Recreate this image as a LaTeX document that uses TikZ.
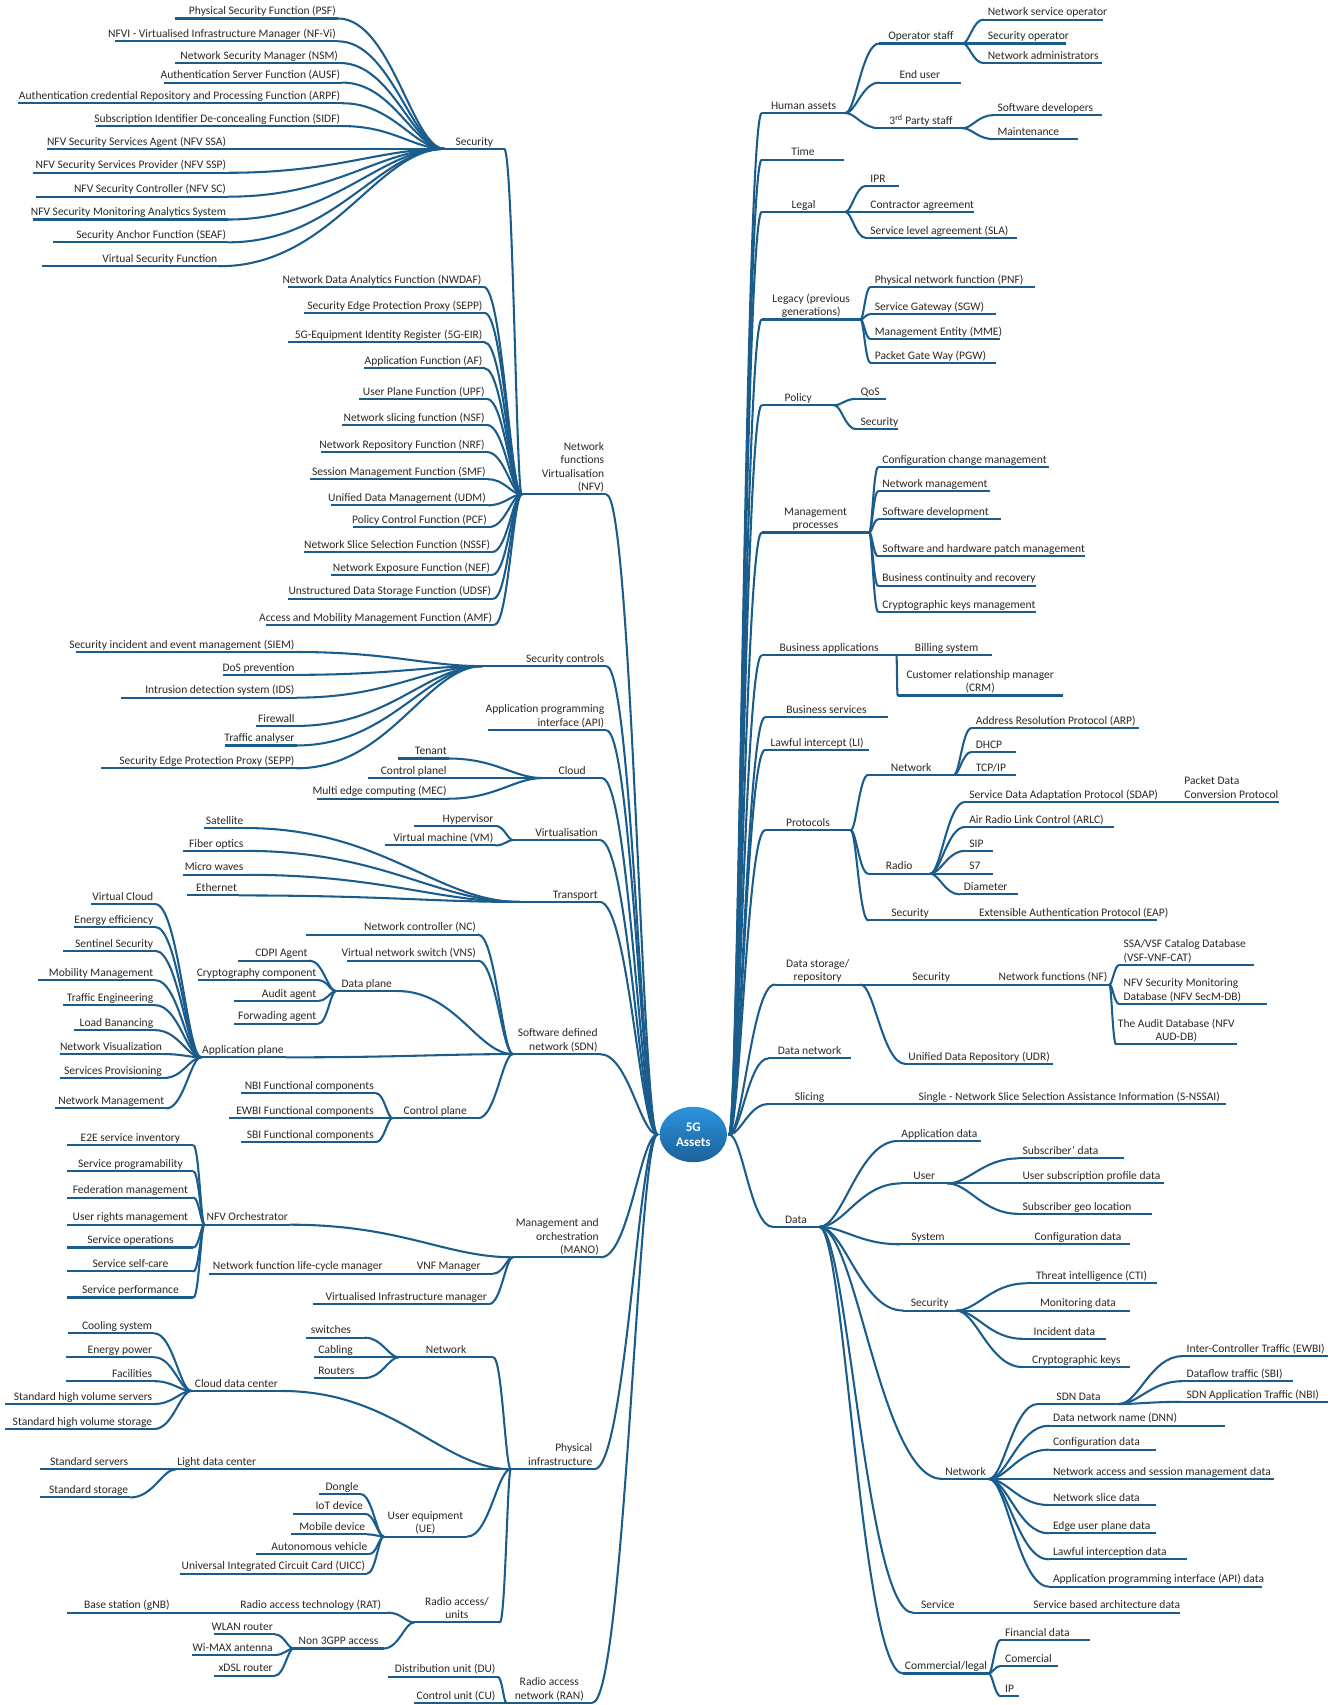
\documentclass[tikz,border=0pt]{standalone}
\usepackage{fontspec}
\setmainfont{Carlito}
\usepackage{tikz}
\usetikzlibrary{shapes.geometric}
\usetikzlibrary{calc}
\definecolor{mapline}{RGB}{26,92,140}
\definecolor{maptext}{RGB}{40,40,40}
\definecolor{hubtop}{RGB}{43,149,221}
\definecolor{hubbot}{RGB}{28,96,155}
\tikzset{
  uline/.style={mapline, line width=1.9pt},
  conn/.style={mapline, line width=1.9pt, line cap=round},
  lbl/.style={font=\fontsize{10.6}{12.4}\selectfont, text=maptext, inner sep=0pt, outer sep=0pt},
  hub/.style={ellipse, minimum width=62pt, minimum height=51pt, inner sep=0pt, top color=hubtop, bottom color=hubbot, text=white, font=\bfseries\fontsize{12}{13.5}\selectfont, align=center}
}
\newcommand\mlines[2]{\begin{tabular}[b]{@{}#1@{}}#2\end{tabular}}
\newcommand\tpL[5]{\coordinate (#1L) at (#2,#4); \coordinate (#1R) at (#3,#4);
  \draw[uline] (#1L) -- (#1R);
  \node[lbl, anchor=base west] (#1) at ({#2+4},{#4-3.5}) {#5};}
\newcommand\tpC[5]{\coordinate (#1L) at (#2,#4); \coordinate (#1R) at (#3,#4);
  \draw[uline] (#1L) -- (#1R);
  \node[lbl, anchor=base] (#1) at ({(#2+#3)/2},{#4-3.5}) {#5};}
\newcommand\tpR[5]{\coordinate (#1L) at (#2,#4); \coordinate (#1R) at (#3,#4);
  \draw[uline] (#1L) -- (#1R);
  \node[lbl, anchor=base east] (#1) at ({#3-2},{#4-3.5}) {#5};}
\newcommand\linkR[2]{\draw[conn] (#1R) .. controls ($(#1R)!0.3!(#1R-|#2L)$) and ($(#2L)!0.5!(#2L-|#1R)$) .. (#2L);}
\newcommand\linkL[2]{\draw[conn] (#1L) .. controls ($(#1L)!0.3!(#1L-|#2R)$) and ($(#2R)!0.5!(#2R-|#1L)$) .. (#2R);}

\begin{document}
\begin{tikzpicture}[x=1pt,y=-1pt]
\useasboundingbox (0,0) rectangle (1234,1569);
\coordinate (ctrL) at (605,1044);
\coordinate (ctrR) at (671,1044);

\tpC{hum}{701}{778}{104}{Human assets}
\tpC{ops}{809}{886}{40}{Operator staff}
\tpL{nso}{905}{1015}{18}{Network service operator}
\tpL{seco}{905}{981}{40}{Security operator}
\tpL{nadm}{905}{1014}{58}{Network administrators}
\tpC{endu}{809}{884}{76}{End user}
\tpC{third}{809}{886}{118}{3\textsuperscript{rd} Party staff}
\tpL{swdev}{914}{1014}{106}{Software developers}
\tpL{maint}{914}{992}{128}{Maintenance}
\tpC{time}{701}{777}{147}{Time}
\tpC{legal}{701}{778}{195}{Legal}
\tpL{ipr}{797}{827}{171}{IPR}
\tpL{contr}{797}{896}{195}{Contractor agreement}
\tpL{sla}{797}{936}{219}{Service level agreement (SLA)}
\tpC{legacy}{701}{792}{294}{\mlines{c}{Legacy (previous\\generations)}}
\tpL{pnf}{801}{952}{264}{Physical network function (PNF)}
\tpL{sgw}{801}{917}{289}{Service Gateway (SGW)}
\tpL{mme}{801}{920}{312}{Management Entity (MME)}
\tpL{pgw}{801}{917}{334}{Packet Gate Way (PGW)}
\tpC{policy}{701}{768}{373}{Policy}
\tpL{qos}{788}{815}{367}{QoS}
\tpL{polsec}{788}{826}{395}{Security}
\tpC{mgmt}{701}{800}{490}{\mlines{c}{Management\\processes}}
\tpL{ccm}{808}{965}{430}{Configuration change management}
\tpL{netm}{808}{911}{452}{Network management}
\tpL{swd}{808}{921}{478}{Software development}
\tpL{patch}{808}{998}{512}{Software and hardware patch management}
\tpL{bcr}{808}{953}{539}{Business continuity and recovery}
\tpL{ckm}{808}{953}{563}{Cryptographic keys management}
\tpC{busapp}{701}{825}{603}{Business applications}
\tpL{bill}{838}{913}{603}{Billing system}
\tpC{crm}{826}{978}{640}{\mlines{c}{Customer relationship manager\\(CRM)}}
\tpC{bussrv}{704}{817}{660}{Business services}
\tpC{li}{704}{800}{690}{Lawful intercept (LI)}
\tpC{proto}{704}{783}{764}{Protocols}
\tpC{pnet}{799}{878}{713}{Network}
\tpL{arp}{894}{1048}{670}{Address Resolution Protocol (ARP)}
\tpL{dhcp}{894}{935}{692}{DHCP}
\tpL{tcp}{894}{935}{713}{TCP/IP}
\tpC{radio}{799}{856}{804}{Radio}
\tpL{sdap}{888}{1062}{738}{Service Data Adaptation Protocol (SDAP)}
\tpL{pdcp}{1086}{1177}{738}{\mlines{l}{Packet Data\\Conversion Protocol}}
\tpL{arlc}{888}{1025}{761}{Air Radio Link Control (ARLC)}
\tpL{sip}{888}{914}{783}{SIP}
\tpL{s7}{888}{914}{804}{S7}
\tpL{diam}{883}{937}{823}{Diameter}
\tpC{psec}{799}{876}{847}{Security}
\tpL{eap}{897}{1065}{847}{Extensible Authentication Protocol (EAP)}
\tpC{dstore}{713}{792}{906}{\mlines{c}{Data storage/\\repository}}
\tpC{dssec}{831}{883}{906}{Security}
\tpC{nf}{917}{1021}{906}{Network functions (NF)}
\tpL{cat}{1030}{1154}{888}{\mlines{l}{SSA/VSF Catalog Database\\(VSF-VNF-CAT)}}
\tpL{secm}{1030}{1166}{924}{\mlines{l}{NFV Security Monitoring\\Database (NFV SecM-DB)}}
\tpC{aud}{1027}{1138}{961}{\mlines{c}{The Audit Database (NFV\\AUD-DB)}}
\tpC{udr}{833}{969}{979}{Unified Data Repository (UDR)}
\tpC{dnet}{707}{783}{974}{Data network}
\tpC{slicing}{707}{783}{1016}{Slicing}
\tpC{snssai}{840}{1128}{1016}{Single - Network Slice Selection Assistance Information (S-NSSAI)}
\tpC{data}{711}{754}{1129}{Data}
\tpC{appd}{826}{903}{1050}{Application data}
\tpC{user}{829}{872}{1089}{User}
\tpL{subd}{937}{1034}{1066}{Subscriber' data}
\tpL{usp}{937}{1071}{1089}{User subscription profile data}
\tpL{geo}{937}{1060}{1117}{Subscriber geo location}
\tpC{sys}{828}{880}{1145}{System}
\tpC{confd}{944}{1040}{1145}{Configuration data}
\tpC{dsec}{831}{880}{1206}{Security}
\tpC{cti}{944}{1065}{1181}{Threat intelligence (CTI)}
\tpC{mond}{944}{1040}{1206}{Monitoring data}
\tpC{incd}{941}{1018}{1232}{Incident data}
\tpC{cryk}{941}{1040}{1258}{Cryptographic keys}
\tpC{dnw}{867}{910}{1361}{Network}
\tpC{sdnd}{955}{1030}{1292}{SDN Data}
\tpL{ewbi}{1088}{1222}{1248}{Inter-Controller Traffic (EWBI)}
\tpL{sbi}{1088}{1190}{1271}{Dataflow traffic (SBI)}
\tpL{nbi}{1088}{1222}{1290}{SDN Application Traffic (NBI)}
\tpL{dnn}{965}{1127}{1312}{Data network name (DNN)}
\tpL{conf2}{965}{1064}{1334}{Configuration data}
\tpL{nasm}{965}{1172}{1361}{Network access and session management data}
\tpL{nsd}{965}{1064}{1385}{Network slice data}
\tpL{eup}{965}{1064}{1411}{Edge user plane data}
\tpL{lid}{965}{1092}{1435}{Lawful interception data}
\tpL{apid}{965}{1161}{1460}{Application programming interface (API) data}
\tpC{service}{840}{886}{1484}{Service}
\tpC{sba}{951}{1086}{1484}{Service based architecture data}
\tpC{comm}{831}{910}{1540}{Commercial/legal}
\tpL{fin}{921}{1003}{1509}{Financial data}
\tpL{comr}{921}{974}{1533}{Comercial}
\tpL{ip}{921}{938}{1561}{IP}

\tpR{nfv}{480}{558}{455}{\mlines{r}{Network\\functions\\Virtualisation\\(NFV)}}
\tpC{lsec}{409}{464}{137}{Security}
\tpR{psf}{161}{311}{17}{Physical Security Function (PSF)}
\tpR{nfvi}{106}{311}{38}{NFVI - Virtualised Infrastructure Manager (NF-Vi)}
\tpR{nsm}{161}{313}{58}{Network Security Manager (NSM)}
\tpR{ausf}{151}{315}{76}{Authentication Server Function (AUSF)}
\tpR{arpf}{17}{315}{95}{Authentication credential Repository and Processing Function (ARPF)}
\tpR{sidf}{88}{315}{116}{Subscription Identifier De-concealing Function (SIDF)}
\tpR{ssa}{43}{210}{137}{NFV Security Services Agent (NFV SSA)}
\tpR{ssp}{30}{210}{159}{NFV Security Services Provider (NFV SSP)}
\tpR{nsc}{33}{210}{181}{NFV Security Controller (NFV SC)}
\tpR{smas}{30}{210}{202}{NFV Security Monitoring Analytics System}
\tpR{seaf}{49}{210}{223}{Security Anchor Function (SEAF)}
\tpR{vsf}{39}{202}{245}{Virtual Security Function}
\tpR{nwdaf}{265}{445}{264}{Network Data Analytics Function (NWDAF)}
\tpR{sepp}{280}{446}{288}{Security Edge Protection Proxy (SEPP)}
\tpR{eir}{265}{446}{315}{5G-Equipment Identity Register (5G-EIR)}
\tpR{af}{335}{446}{339}{Application Function (AF)}
\tpR{upf}{330}{448}{367}{User Plane Function (UPF)}
\tpR{nsf}{315}{448}{391}{Network slicing function (NSF)}
\tpR{nrf}{295}{448}{416}{Network Repository Function (NRF)}
\tpR{smf}{285}{449}{441}{Session Management Function (SMF)}
\tpR{udm}{305}{449}{465}{Unified Data Management (UDM)}
\tpR{pcf}{325}{450}{485}{Policy Control Function (PCF)}
\tpR{nssf}{280}{453}{508}{Network Slice Selection Function (NSSF)}
\tpR{nef}{305}{453}{529}{Network Exposure Function (NEF)}
\tpR{udsf}{265}{454}{551}{Unstructured Data Storage Function (UDSF)}
\tpR{amf}{245}{455}{575}{Access and Mobility Management Function (AMF)}
\tpR{secctl}{444}{558}{613}{Security controls}
\tpR{siem}{70}{273}{600}{Security incident and event management (SIEM)}
\tpR{dos}{205}{273}{621}{DoS prevention}
\tpR{ids}{111}{273}{642}{Intrusion detection system (IDS)}
\tpR{fw}{236}{273}{668}{Firewall}
\tpR{traf}{207}{273}{686}{Traffic analyser}
\tpR{sepp2}{93}{273}{707}{Security Edge Protection Proxy (SEPP)}
\tpR{api}{449}{558}{672}{\mlines{r}{Application programming\\interface (API)}}
\tpC{cloud}{499}{554}{716}{Cloud}
\tpR{tenant}{366}{413}{698}{Tenant}
\tpR{cplanel}{339}{413}{716}{Control planel}
\tpR{mec}{292}{413}{735}{Multi edge computing (MEC)}
\tpR{virt}{472}{552}{773}{Virtualisation}
\tpR{hyp}{381}{456}{760}{Hypervisor}
\tpR{vm}{354}{456}{778}{Virtual machine (VM)}
\tpR{trans}{478}{552}{830}{Transport}
\tpR{sat}{188}{226}{762}{Satellite}
\tpR{fib}{168}{226}{783}{Fiber optics}
\tpR{mw}{168}{226}{805}{Micro waves}
\tpR{eth}{172}{220}{824}{Ethernet}
\tpR{sdn}{472}{552}{970}{\mlines{r}{Software defined\\network (SDN)}}
\tpR{nc}{282}{440}{860}{Network controller (NC)}
\tpR{vns}{319}{440}{884}{Virtual network switch (VNS)}
\tpC{dplane}{309}{366}{912}{Data plane}
\tpR{cdpi}{219}{285}{884}{CDPI Agent}
\tpR{crypt}{182}{293}{902}{Cryptography component}
\tpR{audit}{215}{293}{921}{Audit agent}
\tpR{fwd}{215}{293}{942}{Forwading agent}
\tpR{aplane}{185}{263}{973}{Application plane}
\tpR{vcloud}{84}{143}{832}{Virtual Cloud}
\tpR{energy}{68}{143}{853}{Energy efficiency}
\tpR{sentinel}{58}{143}{875}{Sentinel Security}
\tpR{mobility}{35}{143}{902}{Mobility Management}
\tpR{traffic}{58}{143}{925}{Traffic Engineering}
\tpR{load}{68}{143}{948}{Load Banancing}
\tpR{netvis}{55}{151}{970}{Network Visualization}
\tpR{services}{55}{151}{992}{Services Provisioning}
\tpR{netmgmt}{51}{153}{1020}{Network Management}
\tpC{cplane}{361}{440}{1029}{Control plane}
\tpR{nbi2}{222}{346}{1006}{NBI Functional components}
\tpR{ewbi2}{211}{346}{1029}{EWBI Functional components}
\tpR{sbi2}{222}{346}{1051}{SBI Functional components}
\tpR{mano}{472}{553}{1157}{\mlines{r}{Management and\\orchestration\\(MANO)}}
\tpC{orch}{188}{267}{1127}{NFV Orchestrator}
\tpC{e2e}{62}{178}{1054}{E2E service inventory}
\tpC{prog}{62}{178}{1078}{Service programability}
\tpC{fed}{62}{178}{1102}{Federation management}
\tpC{urm}{62}{178}{1127}{User rights management}
\tpC{sops}{62}{178}{1148}{Service operations}
\tpC{selfc}{62}{178}{1170}{Service self-care}
\tpC{sperf}{62}{178}{1194}{Service performance}
\tpC{vnfm}{372}{454}{1172}{VNF Manager}
\tpL{nflcm}{192}{366}{1172}{Network function life-cycle manager}
\tpR{vim}{288}{450}{1200}{Virtualised Infrastructure manager}
\tpR{phys}{470}{547}{1352}{\mlines{r}{Physical\\infrastructure}}
\tpC{netw}{367}{454}{1249}{Network}
\tpL{sw}{282}{336}{1231}{switches}
\tpL{cab}{289}{336}{1249}{Cabling}
\tpL{rout}{289}{336}{1268}{Routers}
\tpC{cdc}{176}{259}{1280}{Cloud data center}
\tpR{cool}{63}{142}{1227}{Cooling system}
\tpR{enp}{61}{142}{1249}{Energy power}
\tpR{fac}{61}{142}{1271}{Facilities}
\tpR{shvs}{5}{142}{1292}{Standard high volume servers}
\tpR{shvst}{5}{142}{1315}{Standard high volume storage}
\tpC{ldc}{162}{237}{1352}{Light data center}
\tpR{sserv}{37}{120}{1352}{Standard servers}
\tpR{sstor}{37}{120}{1378}{Standard storage}
\tpC{ue}{353}{430}{1414}{\mlines{c}{User equipment\\(UE)}}
\tpR{dongle}{294}{332}{1375}{Dongle}
\tpR{iot}{270}{336}{1393}{IoT device}
\tpR{mob}{268}{338}{1412}{Mobile device}
\tpR{auto}{236}{340}{1430}{Autonomous vehicle}
\tpR{uicc}{166}{338}{1448}{Universal Integrated Circuit Card (UICC)}
\tpC{rau}{381}{460}{1493}{\mlines{c}{Radio access/\\units}}
\tpC{rat}{215}{357}{1484}{Radio access technology (RAT)}
\tpR{gnb}{62}{158}{1484}{Base station (gNB)}
\tpC{n3gpp}{270}{353}{1517}{Non 3GPP access}
\tpR{wlan}{197}{253}{1504}{WLAN router}
\tpR{wimax}{177}{253}{1523}{Wi-MAX antenna}
\tpR{xdsl}{197}{253}{1542}{xDSL router}
\tpC{ran}{466}{545}{1567}{\mlines{c}{Radio access\\network (RAN)}}
\tpR{du}{357}{458}{1543}{Distribution unit (DU)}
\tpR{cu}{381}{458}{1567}{Control unit (CU)}

\foreach \x in {hum,time,legal,legacy,policy,mgmt,busapp,bussrv,li,proto,dstore,dnet,slicing,data} {\linkR{ctr}{\x}}
\foreach \x in {ops,endu,third} {\linkR{hum}{\x}}
\foreach \x in {nso,seco,nadm} {\linkR{ops}{\x}}
\foreach \x in {swdev,maint} {\linkR{third}{\x}}
\foreach \x in {ipr,contr,sla} {\linkR{legal}{\x}}
\foreach \x in {pnf,sgw,mme,pgw} {\linkR{legacy}{\x}}
\foreach \x in {qos,polsec} {\linkR{policy}{\x}}
\foreach \x in {ccm,netm,swd,patch,bcr,ckm} {\linkR{mgmt}{\x}}
\foreach \x in {bill,crm} {\linkR{busapp}{\x}}
\foreach \x in {pnet,radio,psec} {\linkR{proto}{\x}}
\foreach \x in {arp,dhcp,tcp} {\linkR{pnet}{\x}}
\foreach \x in {sdap,arlc,sip,s7,diam} {\linkR{radio}{\x}}
\linkR{sdap}{pdcp}
\linkR{psec}{eap}
\foreach \x in {dssec,udr} {\linkR{dstore}{\x}}
\linkR{dssec}{nf}
\foreach \x in {cat,secm,aud} {\linkR{nf}{\x}}
\linkR{slicing}{snssai}
\foreach \x in {appd,user,sys,dsec,dnw,service,comm} {\linkR{data}{\x}}
\foreach \x in {subd,usp,geo} {\linkR{user}{\x}}
\linkR{sys}{confd}
\foreach \x in {cti,mond,incd,cryk} {\linkR{dsec}{\x}}
\foreach \x in {sdnd,dnn,conf2,nasm,nsd,eup,lid,apid} {\linkR{dnw}{\x}}
\foreach \x in {ewbi,sbi,nbi} {\linkR{sdnd}{\x}}
\linkR{service}{sba}
\foreach \x in {fin,comr,ip} {\linkR{comm}{\x}}

\foreach \x in {nfv,secctl,api,cloud,virt,trans,sdn,mano,phys,ran} {\linkL{ctr}{\x}}
\foreach \x in {lsec,nwdaf,sepp,eir,af,upf,nsf,nrf,smf,udm,pcf,nssf,nef,udsf,amf} {\linkL{nfv}{\x}}
\foreach \x in {psf,nfvi,nsm,ausf,arpf,sidf,ssa,ssp,nsc,smas,seaf,vsf} {\linkL{lsec}{\x}}
\foreach \x in {siem,dos,ids,fw,traf,sepp2} {\linkL{secctl}{\x}}
\foreach \x in {tenant,cplanel,mec} {\linkL{cloud}{\x}}
\foreach \x in {hyp,vm} {\linkL{virt}{\x}}
\foreach \x in {sat,fib,mw,eth} {\linkL{trans}{\x}}
\foreach \x in {nc,vns,dplane,aplane,cplane} {\linkL{sdn}{\x}}
\foreach \x in {cdpi,crypt,audit,fwd} {\linkL{dplane}{\x}}
\foreach \x in {vcloud,energy,sentinel,mobility,traffic,load,netvis,services,netmgmt} {\linkL{aplane}{\x}}
\foreach \x in {nbi2,ewbi2,sbi2} {\linkL{cplane}{\x}}
\foreach \x in {orch,vnfm,vim} {\linkL{mano}{\x}}
\foreach \x in {e2e,prog,fed,urm,sops,selfc,sperf} {\linkL{orch}{\x}}
\linkL{vnfm}{nflcm}
\foreach \x in {netw,cdc,ldc,ue,rau} {\linkL{phys}{\x}}
\foreach \x in {sw,cab,rout} {\linkL{netw}{\x}}
\foreach \x in {cool,enp,fac,shvs,shvst} {\linkL{cdc}{\x}}
\foreach \x in {sserv,sstor} {\linkL{ldc}{\x}}
\foreach \x in {dongle,iot,mob,auto,uicc} {\linkL{ue}{\x}}
\foreach \x in {rat,n3gpp} {\linkL{rau}{\x}}
\linkL{rat}{gnb}
\foreach \x in {wlan,wimax,xdsl} {\linkL{n3gpp}{\x}}
\foreach \x in {du,cu} {\linkL{ran}{\x}}

\node[hub] (ctr) at (638,1044) {5G\\Assets};
\end{tikzpicture}
\end{document}
